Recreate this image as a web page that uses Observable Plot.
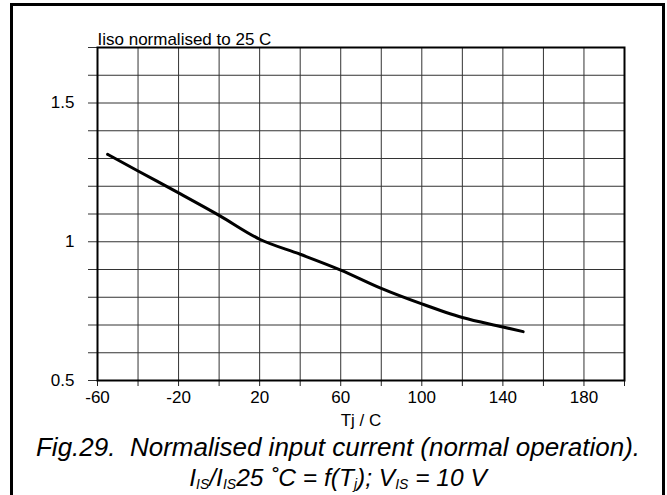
<!DOCTYPE html>
<html><head><meta charset="utf-8">
<script src="https://cdn.jsdelivr.net/npm/d3@7"></script>
<script src="https://cdn.jsdelivr.net/npm/@observablehq/plot@0.6"></script>
<style>
body{margin:0;background:#fff;font-family:"Liberation Sans",Arial,sans-serif;}
#wrap{position:relative;width:667px;height:495px;overflow:hidden;background:#fff;}
#border{position:absolute;left:10px;top:3px;width:649px;height:500px;border:3px solid #000;}
#chart{position:absolute;left:0;top:0;}
.cap{position:absolute;left:0;width:676px;text-align:center;font-style:italic;line-height:23px;height:23px;color:#000;white-space:nowrap;}
#cap1{font-size:26px;}
#cap2{font-size:24.5px;}
.cap sub{font-size:14px;vertical-align:-3px;line-height:0;}
</style></head><body>
<div id="wrap">
  <div id="border"></div>
  <div id="chart"></div>
  <div class="cap" id="cap1" style="top:436px;">Fig.29.&nbsp; Normalised input current (normal operation).</div>
  <div class="cap" id="cap2" style="top:466px;">I<sub>IS</sub>/I<sub>IS</sub>25 ˚C = f(T<sub>j</sub>); V<sub>IS</sub> = 10 V</div>
</div>
<script>
// Data
const tj  = [-55, -40, -20, 0, 20, 40, 60, 80, 100, 120, 140, 150];
const iso = [1.315, 1.255, 1.176, 1.095, 1.009, 0.955, 0.898, 0.832, 0.776, 0.727, 0.693, 0.676];

// Axis ticks and labels
const xTicks = [-60, -40, -20, 0, 20, 40, 60, 80, 100, 120, 140, 160, 180, 200];
const xTickLabels = [-60, -20, 20, 60, 100, 140, 180];
const yTicks = [0.5, 0.6, 0.7, 0.8, 0.9, 1, 1.1, 1.2, 1.3, 1.4, 1.5, 1.6, 1.7];
const yTickLabels = [0.5, 1, 1.5];

const titleText = "Iiso normalised to 25 C";
const xLabel = "Tj / C";

const data = tj.map((t, i) => ({tj: t, iso: iso[i]}));

const chart = Plot.plot({
  width: 667,
  height: 430,
  marginLeft: 97,
  marginRight: 43,
  marginTop: 47,
  marginBottom: 50,
  style: {fontFamily: "Liberation Sans, Arial, sans-serif", fontSize: "17px", color: "#000", background: "transparent"},
  x: {domain: [-60, 200]},
  y: {domain: [0.5, 1.7]},
  marks: [
    Plot.ruleX(xTicks, {x: d => d, stroke: "#333", strokeWidth: 1}),
    Plot.ruleY(yTicks, {y: d => d, stroke: "#333", strokeWidth: 1}),
    Plot.axisX(xTicks, {
      tickSize: 6, tickPadding: 4, stroke: "#222", fontSize: 17,
      tickFormat: d => xTickLabels.includes(d) ? String(d) : "",
      label: xLabel, labelAnchor: "center", labelArrow: "none", labelOffset: 45
    }),
    Plot.axisY(yTicks, {
      tickSize: 9, tickPadding: 14, stroke: "#333", fontSize: 17,
      tickFormat: d => yTickLabels.includes(d) ? String(d) : "",
      label: null
    }),
    Plot.frame({stroke: "#000", strokeWidth: 2}),
    Plot.line(data, {x: "tj", y: "iso", curve: "monotone-x", stroke: "#000", strokeWidth: 3}),
    Plot.text([titleText], {frameAnchor: "top-left", dy: -15, textAnchor: "start", fontSize: 17, fill: "#000"})
  ]
});
document.getElementById("chart").appendChild(chart);
</script>
</body></html>
